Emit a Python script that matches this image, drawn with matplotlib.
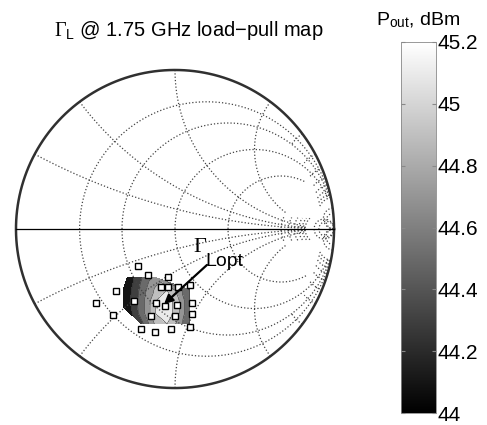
import numpy as np
import matplotlib.pyplot as plt
import matplotlib.tri as mtri
from matplotlib import cm, colors
from matplotlib.ticker import FuncFormatter

plt.rcParams['font.family'] = ['Liberation Sans', 'DejaVu Sans']
plt.rcParams['mathtext.fontset'] = 'custom'
plt.rcParams['mathtext.rm'] = 'Liberation Serif'
plt.rcParams['mathtext.sf'] = 'Liberation Sans'
plt.rcParams['mathtext.it'] = 'Liberation Serif:italic'

# load-pull tuner points (reflection coefficient plane)
pts_re = [-0.235, -0.168, -0.041, -0.371, -0.091, -0.041, 0.019, 0.097, -0.494, -0.256, -0.121,
          -0.062, 0.013, 0.110, -0.390, -0.154, 0.003, 0.110, -0.211, -0.126, -0.026, 0.097]
pts_im = [-0.231, -0.292, -0.304, -0.390, -0.365, -0.365, -0.365, -0.352, -0.465, -0.452, -0.463,
          -0.484, -0.478, -0.463, -0.541, -0.547, -0.547, -0.535, -0.631, -0.645, -0.626, -0.616]

# Pout samples of the interpolated map
map_re = [-0.302, -0.245, -0.182, -0.113,
          -0.327, -0.258, -0.189, -0.119, -0.050, 0.019, 0.094,
          -0.327, -0.258, -0.189, -0.119, -0.050, 0.019, 0.094,
          -0.327, -0.082,
          -0.285, -0.189, -0.119, -0.050, 0.019, 0.094,
          -0.208, -0.119, -0.050, 0.019, 0.094]
map_im = [-0.308, -0.308, -0.308, -0.308,
          -0.384, -0.384, -0.384, -0.384, -0.384, -0.384, -0.384,
          -0.453, -0.453, -0.453, -0.453, -0.453, -0.453, -0.453,
          -0.491, -0.491,
          -0.528, -0.528, -0.528, -0.528, -0.528, -0.528,
          -0.597, -0.597, -0.597, -0.597, -0.597]
map_pout = [44.02, 44.25, 44.50, 44.70,
            44.02, 44.26, 44.57, 44.86, 45.00, 44.72, 44.38,
            44.02, 44.29, 44.62, 45.00, 45.15, 44.85, 44.40,
            44.02, 45.20,
            44.12, 44.62, 45.02, 45.15, 44.85, 44.40,
            44.35, 44.86, 45.00, 44.74, 44.38]

levels = [44.0, 44.2, 44.4, 44.6, 44.8, 45.0, 45.2]
cbar_ticks = [44, 44.2, 44.4, 44.6, 44.8, 45, 45.2]
gamma_opt = (-0.069, -0.472)

# smith chart grid: value and where the line stops
r_grid = [0.25, 0.5, 1, 2, 5, 6, 7, 8, 9, 10, 15, 20]
r_stop = [10, 10, 10, 5, 1.4, 1.9, 2.5, 3.1, 3.9, 4.9, 1e4, 1e4]
x_grid = [0.25, 0.5, 1, 2, 3, 4, 5, 6, 7, 8, 9, 10, 15, 20]
x_stop = [10, 10, 10, 5, 0.5, 0.8, 1.3, 1.9, 2.6, 3.5, 4.6, 6, 1e4, 1e4]


def z2g(z):
    return (z - 1) / (z + 1)


fig = plt.figure(figsize=(4.87, 4.25), dpi=100)
ax = fig.add_axes([0.0263, 0.0795, 0.6661, 0.7633])
ax.set_xlim(-1.02, 1.02)
ax.set_ylim(-1.02, 1.02)
ax.axis('off')

gs = dict(ls=':', color='#444444', lw=0.9)
for r, xm in zip(r_grid, r_stop):
    t = np.linspace(-np.arctan(xm), np.arctan(xm), 600)
    g = z2g(r + 1j * np.tan(t))
    ax.plot(g.real, g.imag, **gs)
for x, rm in zip(x_grid, x_stop):
    t = np.linspace(0, np.arctan(rm), 600)
    for s in (1, -1):
        g = z2g(np.tan(t) + 1j * s * x)
        ax.plot(g.real, g.imag, **gs)

th = np.linspace(0, 2 * np.pi, 400)
ax.plot(np.cos(th), np.sin(th), color='#303030', lw=1.8)
ax.plot([-1, 1], [0, 0], color='k', lw=0.9)

tri = mtri.Triangulation(map_re, map_im)
ax.tricontourf(tri, map_pout, levels=levels, cmap='gray', vmin=44, vmax=45.2)
ax.tricontour(tri, map_pout, levels=levels[1:-1], colors='#333333', linewidths=0.4)

ax.plot(pts_re, pts_im, 's', mfc='white', mec='k', ms=3.8, mew=1.0)

ax.annotate('', xy=gamma_opt, xytext=(0.201, -0.226),
            arrowprops=dict(arrowstyle='-|>', color='k', lw=1.6, mutation_scale=13,
                            shrinkA=0, shrinkB=0))
ax.text(0.113, -0.145, '\u0393', family='Liberation Serif', fontsize=16, va='baseline')
ax.text(0.189, -0.233, 'Lopt', family='Liberation Sans', fontsize=14, va='baseline')

fig.text(189 / 487, 0.9153, r'$\Gamma_{\mathsf{L}}$' + ' @ 1.75 GHz load\u2212pull map',
         ha='center', va='baseline', fontsize=14.5)

cax = fig.add_axes([0.8234, 0.0282, 0.0719, 0.873])
sm = cm.ScalarMappable(norm=colors.Normalize(44, 45.2), cmap='gray')
cb = fig.colorbar(sm, cax=cax, ticks=cbar_ticks)
cb.ax.yaxis.set_major_formatter(FuncFormatter(lambda v, p: f'{v:g}'))
cb.ax.tick_params(direction='in', length=3, left=True, right=True, color='#888888',
                  labelsize=15, pad=1)
cb.outline.set_edgecolor('#888888')
cb.outline.set_linewidth(0.6)
fig.text(418.5 / 487, 0.941, r'P$_{\mathsf{out}}$, dBm', ha='center', va='baseline', fontsize=14)

fig.savefig('out.png', dpi=100)
